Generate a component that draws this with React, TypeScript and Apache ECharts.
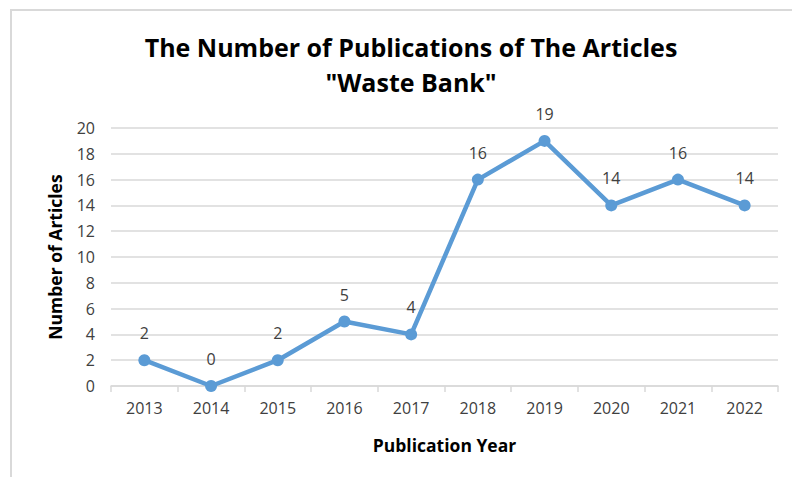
import React, { useEffect, useRef } from "react";
import * as echarts from "echarts";

const years = ["2013", "2014", "2015", "2016", "2017", "2018", "2019", "2020", "2021", "2022"];
const articles = [2, 0, 2, 5, 4, 16, 19, 14, 16, 14];
const titleText = 'The Number of Publications of The Articles\n"Waste Bank"';
const yAxisName = "Number of Articles";
const xAxisName = "Publication Year";

const FONT = "'Open Sans', 'Noto Sans', sans-serif";

export default function App() {
  const ref = useRef<HTMLDivElement>(null);
  useEffect(() => {
    if (!ref.current) return;
    const chart = echarts.init(ref.current, undefined, { renderer: "svg" });
    chart.setOption({
      animation: false,
      backgroundColor: "#ffffff",
      title: {
        text: titleText,
        left: 406,
        top: 24,
        textAlign: "center",
        textStyle: {
          fontFamily: FONT,
          fontWeight: "bold",
          fontSize: 25,
          lineHeight: 35,
          color: "#000000",
        },
      },
      graphic: [
        {
          type: "rect",
          shape: { x: 11, y: 10, width: 800, height: 480 },
          style: { fill: "none", stroke: "#d9d9d9", lineWidth: 2 },
          silent: true,
        },
      ],
      grid: { left: 111, right: 14, top: 128, bottom: 91 },
      xAxis: {
        type: "category",
        data: years,
        boundaryGap: true,
        name: xAxisName,
        nameLocation: "middle",
        nameGap: 50,
        nameTextStyle: { fontFamily: FONT, fontWeight: "bold", fontSize: 17.5, color: "#000000" },
        axisLine: { show: true, lineStyle: { color: "#d9d9d9", width: 1.5 } },
        axisTick: { show: true, alignWithLabel: false, length: 6, lineStyle: { color: "#d9d9d9", width: 1.5 } },
        axisLabel: { fontFamily: FONT, fontSize: 16, color: "#404040", margin: 14 },
        splitLine: { show: false },
      },
      yAxis: {
        type: "value",
        min: 0,
        max: 20,
        interval: 2,
        name: yAxisName,
        nameLocation: "middle",
        nameGap: 47,
        nameTextStyle: { fontFamily: FONT, fontWeight: "bold", fontSize: 17.5, color: "#000000" },
        axisLine: { show: false },
        axisTick: { show: false },
        axisLabel: { fontFamily: FONT, fontSize: 16, color: "#404040", margin: 16 },
        splitLine: { show: true, lineStyle: { color: "#d9d9d9", width: 1.5 } },
      },
      series: [
        {
          type: "line",
          data: articles,
          symbol: "circle",
          symbolSize: 12,
          lineStyle: { color: "#5b9bd5", width: 4.5 },
          itemStyle: { color: "#5b9bd5" },
          label: {
            show: true,
            position: "top",
            distance: 13,
            fontFamily: FONT,
            fontSize: 16,
            color: "#404040",
          },
        },
      ],
    });
    return () => chart.dispose();
  }, []);
  return (
    <div
      ref={ref}
      style={{ position: "fixed", left: 0, top: 0, width: 792, height: 477 }}
    />
  );
}
